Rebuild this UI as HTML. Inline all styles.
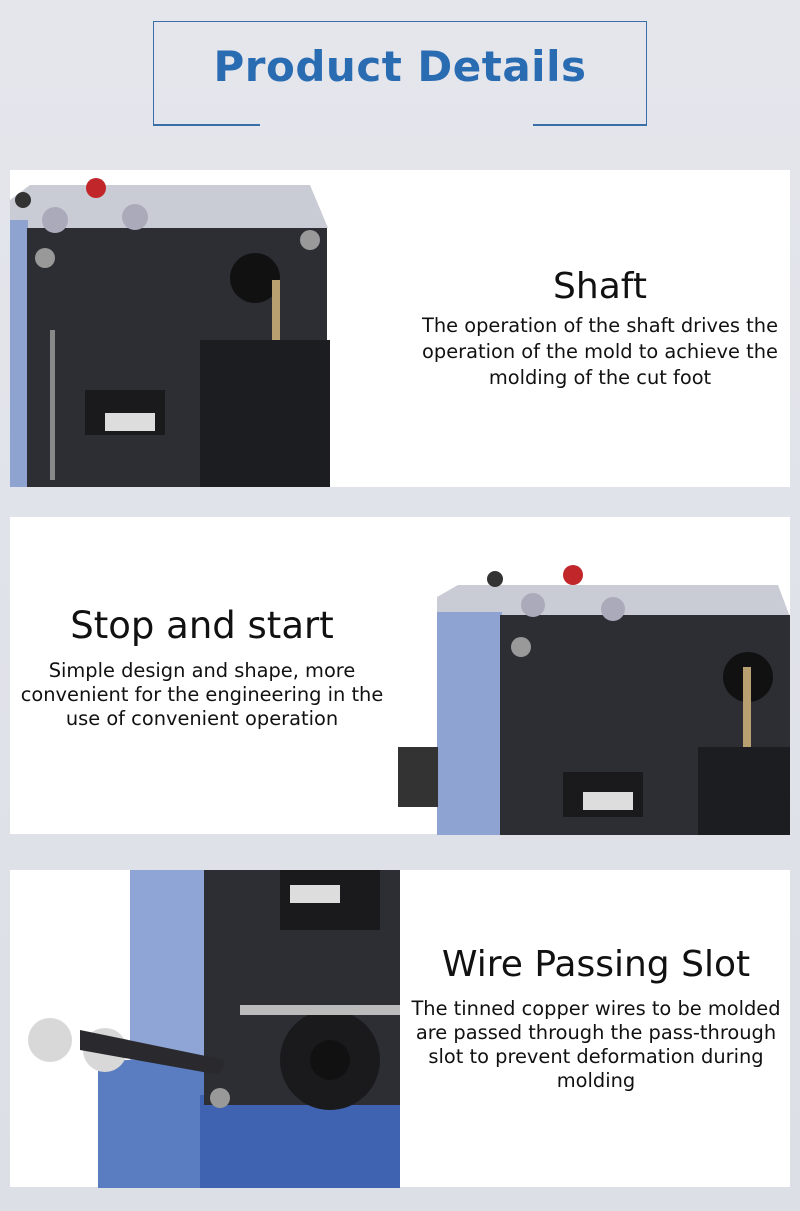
<!DOCTYPE html>
<html><head><meta charset="utf-8"><style>
body{margin:0;width:800px;height:1211px;background:linear-gradient(#e4e6ec,#dcdfe6);position:relative;overflow:hidden;font-family:"Liberation Sans",sans-serif}
.box{position:absolute;left:153px;top:21px;width:492px;height:103px;border:1.5px solid #3a6ea8;border-bottom:none}
.bl{position:absolute;top:124px;height:1.5px;background:#3a6ea8}
h1{position:absolute;left:0;width:800px;top:42px;margin:0;text-align:center;font-size:42px;font-weight:bold;color:#2a6cb2;font-family:"DejaVu Sans","Liberation Sans",sans-serif;letter-spacing:0.5px}
.panel{position:absolute;left:10px;width:780px;height:317px;background:#fff}
.t{position:absolute;text-align:center;color:#111;font-family:"DejaVu Sans",sans-serif}
.t b{display:block;font-weight:normal;font-size:36px;margin-bottom:12px}
.t span{display:block;font-size:19.4px;line-height:24px;white-space:nowrap}
.p1 b{margin-bottom:6px}.p1 span{line-height:26px}
svg{position:absolute}
</style></head><body>
<div class="box"></div><div class="bl" style="left:153px;width:107px"></div><div class="bl" style="left:533px;width:114px"></div>
<h1>Product Details</h1>

<div class="panel" style="top:170px"></div>
<svg style="left:10px;top:170px" width="350" height="317">
<polygon points="0,30 20,15 300,15 318,58 0,60" fill="#c9ccd4"/>
<rect x="0" y="50" width="18" height="267" fill="#8ea3cf"/>
<rect x="17" y="58" width="300" height="259" fill="#2c2e34"/>
<circle cx="13" cy="30" r="8" fill="#333"/><circle cx="86" cy="18" r="10" fill="#c0262a"/><circle cx="45" cy="50" r="13" fill="#aab"/><circle cx="125" cy="47" r="13" fill="#aab"/>
<circle cx="35" cy="88" r="10" fill="#999"/><circle cx="300" cy="70" r="10" fill="#999"/>
<circle cx="245" cy="108" r="25" fill="#111"/>
<rect x="262" y="110" width="8" height="100" fill="#b8a070"/>
<rect x="190" y="170" width="130" height="147" fill="#1c1d21"/>
<rect x="75" y="220" width="80" height="45" fill="#1a1a1d"/><rect x="95" y="243" width="50" height="18" fill="#ddd"/>
<rect x="40" y="160" width="5" height="150" fill="#888"/>
</svg>
<div class="t p1" style="left:400px;width:400px;top:266px"><b>Shaft</b><span>The operation of the shaft drives the</span><span>operation of the mold to achieve the</span><span>molding of the cut foot</span></div>

<div class="panel" style="top:517px"></div>
<svg style="left:398px;top:517px" width="392" height="318">
<polygon points="39,80 60,68 380,68 392,100 39,110" fill="#c9ccd4"/>
<rect x="39" y="95" width="65" height="223" fill="#8fa3d2"/>
<rect x="102" y="98" width="290" height="220" fill="#2c2e34"/>
<circle cx="97" cy="62" r="8" fill="#333"/><circle cx="175" cy="58" r="10" fill="#c0262a"/><circle cx="135" cy="88" r="12" fill="#aab"/><circle cx="215" cy="92" r="12" fill="#aab"/>
<circle cx="123" cy="130" r="10" fill="#999"/>
<circle cx="350" cy="160" r="25" fill="#111"/>
<rect x="345" y="150" width="8" height="100" fill="#b8a070"/>
<rect x="300" y="230" width="92" height="88" fill="#1c1d21"/>
<rect x="165" y="255" width="80" height="45" fill="#1a1a1d"/><rect x="185" y="275" width="50" height="18" fill="#ddd"/>
<rect x="0" y="230" width="40" height="60" fill="#333"/>
</svg>
<div class="t" style="left:0;width:404px;top:604px"><b style="font-size:37px">Stop and start</b><span>Simple design and shape, more</span><span>convenient for the engineering in the</span><span>use of convenient operation</span></div>

<div class="panel" style="top:870px"></div>
<svg style="left:10px;top:870px" width="390" height="318">
<rect x="120" y="0" width="75" height="230" fill="#8ea5d6"/>
<rect x="88" y="190" width="302" height="128" fill="#5a7cc0"/>
<rect x="190" y="225" width="200" height="93" fill="#3f63b0"/>
<rect x="194" y="0" width="196" height="235" fill="#2c2e34"/>
<rect x="270" y="0" width="100" height="60" fill="#1a1a1d"/><rect x="280" y="15" width="50" height="18" fill="#ddd"/>
<circle cx="320" cy="190" r="50" fill="#1a1a1d"/><circle cx="320" cy="190" r="20" fill="#111"/>
<rect x="230" y="135" width="160" height="10" fill="#bbb"/>
<circle cx="40" cy="170" r="22" fill="#d8d8d8"/><circle cx="95" cy="180" r="22" fill="#d8d8d8"/>
<polygon points="70,160 215,190 210,205 70,180" fill="#2a2a2e"/>
<circle cx="210" cy="228" r="10" fill="#999"/>
</svg>
<div class="t" style="left:400px;width:392px;top:944px"><b>Wire Passing Slot</b><span>The tinned copper wires to be molded</span><span>are passed through the pass-through</span><span>slot to prevent deformation during</span><span>molding</span></div>
</body></html>
